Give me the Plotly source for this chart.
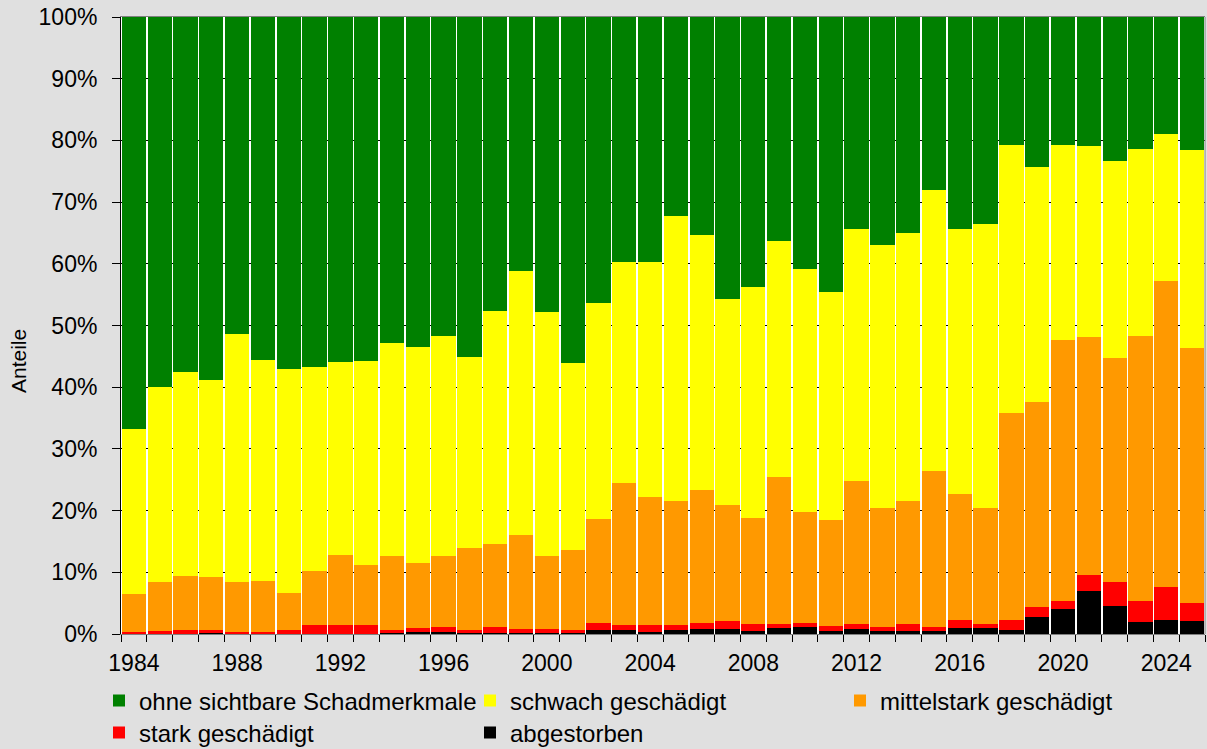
import plotly.graph_objects as go

years = list(range(1984, 2026))

abgestorben = [0, 0, 0, 0.1, 0, 0, 0, 0, 0, 0, 0.1, 0.3, 0.4, 0.1, 0.1, 0.2, 0.2, 0.2,
               0.7, 0.7, 0.3, 0.7, 0.8, 0.8, 0.5, 1.0, 1.1, 0.5, 0.8, 0.5, 0.5, 0.5,
               1.0, 1.0, 0.7, 2.7, 4.0, 7.0, 4.5, 1.9, 2.3, 2.1]
stark = [0.4, 0.5, 0.6, 0.5, 0.3, 0.4, 0.6, 1.4, 1.5, 1.5, 0.6, 0.6, 0.8, 0.6, 1.0, 0.6,
         0.6, 0.5, 1.1, 0.8, 1.2, 0.8, 1.0, 1.3, 1.1, 0.6, 0.7, 0.8, 0.8, 0.6, 1.1, 0.6,
         1.3, 0.6, 1.6, 1.7, 1.3, 2.6, 4.0, 3.4, 5.3, 2.9]
mittelstark = [6.1, 7.9, 8.8, 8.6, 8.1, 8.2, 6.0, 8.8, 11.3, 9.6, 11.9, 10.6, 11.4, 13.2,
               13.5, 15.2, 11.8, 12.9, 16.8, 23.0, 20.8, 20.1, 21.5, 18.8, 17.2, 23.8,
               18.0, 17.2, 23.2, 19.3, 19.9, 25.3, 20.4, 18.8, 33.5, 33.2, 42.3, 38.5,
               36.2, 43.0, 49.6, 41.3]
schwach = [26.8, 31.6, 33.0, 32.0, 40.3, 35.8, 36.4, 33.1, 31.3, 33.1, 34.6, 35.0, 35.7,
           31.0, 37.8, 42.8, 39.6, 30.3, 35.0, 35.8, 38.1, 46.2, 41.4, 33.4, 37.4, 38.3,
           39.4, 36.9, 40.8, 42.6, 43.5, 45.6, 42.9, 46.0, 43.5, 38.1, 31.6, 31.0, 32.0,
           30.3, 23.8, 32.1]
ohne = [66.7, 60.0, 57.6, 58.8, 51.3, 55.6, 57.0, 56.7, 55.9, 55.7, 52.8, 53.5, 51.7,
        55.1, 47.6, 41.2, 47.8, 56.1, 46.3, 39.7, 39.7, 32.2, 35.3, 45.7, 43.8, 36.3,
        40.8, 44.6, 34.4, 37.0, 35.0, 28.0, 34.4, 33.5, 20.7, 24.3, 20.7, 20.9, 23.3,
        21.4, 19.0, 21.5]

names = ["abgestorben", "stark geschädigt", "mittelstark geschädigt",
         "schwach geschädigt", "ohne sichtbare Schadmerkmale"]
colors = ["#000000", "#FF0000", "#FF9900", "#FFFF00", "#008000"]
series = [abgestorben, stark, mittelstark, schwach, ohne]
legend_ids = ["legend5", "legend4", "legend3", "legend2", "legend"]

FONT = "Arial, Liberation Sans, sans-serif"

fig = go.Figure()
for nm, col, vals, lg in zip(names, colors, series, legend_ids):
    fig.add_trace(go.Bar(x=years, y=vals, name=nm, marker=dict(color=col, line=dict(width=0)),
                         legend=lg))

# plot area px: x 121..1205, y 17..634
def px_x(p):
    return (p - 121) / 1084.0

def px_y(p):
    return (634 - p) / 617.0

leg_common = dict(orientation="h", font=dict(family=FONT, size=24, color="#000"),
                  bgcolor="rgba(0,0,0,0)", itemwidth=30, yanchor="middle", xanchor="left")
# text starts: col1 139, col2 510, col3 880 ; rows 701, 733
fig.update_layout(
    legend=dict(x=px_x(139 - 40), y=px_y(701), **leg_common),
    legend2=dict(x=px_x(510 - 40), y=px_y(701), **leg_common),
    legend3=dict(x=px_x(880 - 40), y=px_y(701), **leg_common),
    legend4=dict(x=px_x(139 - 40), y=px_y(733), **leg_common),
    legend5=dict(x=px_x(510 - 40), y=px_y(733), **leg_common),
)

fig.update_layout(
    width=1207, height=749, autosize=False,
    barmode="stack", barnorm="percent", bargap=0.06,
    paper_bgcolor="#E0E0E0", plot_bgcolor="#FFFFFF",
    margin=dict(l=121, r=2, t=17, b=115, autoexpand=False),
    font=dict(family=FONT, size=23, color="#000"),
    showlegend=True,
)

fig.update_xaxes(
    range=[1983.5, 2025.5], tick0=1984, dtick=4, tickmode="linear",
    ticks="", showgrid=False, showline=True, linecolor="#808080", linewidth=1, mirror=True,
    tickfont=dict(family=FONT, size=23, color="#000"), automargin=False,
    ticklabelstandoff=8,
    minor=dict(tick0=1983.5, dtick=1, ticks="outside", ticklen=7, tickcolor="#000",
               tickwidth=1, showgrid=False),
    zeroline=False,
)
fig.update_yaxes(
    range=[0, 100], tick0=0, dtick=10, ticksuffix="%",
    ticks="outside", ticklen=8, tickcolor="#000", tickwidth=1,
    showgrid=True, gridcolor="#000000", gridwidth=1,
    showline=True, linecolor="#000000", linewidth=1, zeroline=False,
    tickfont=dict(family=FONT, size=23, color="#000"), automargin=False,
    ticklabelstandoff=10,
)
fig.add_annotation(text="Anteile", xref="paper", yref="paper",
                   x=px_x(18), y=px_y(361), xanchor="center", yanchor="middle",
                   textangle=-90, showarrow=False,
                   font=dict(family=FONT, size=21, color="#000"))
fig.add_shape(type="line", xref="paper", yref="paper", x0=1, x1=1, y0=0, y1=1,
              line=dict(color="#808080", width=1))

fig.write_html(
    "out.html",
    config={"responsive": False, "displayModeBar": False},
    default_width="1207px", default_height="749px",
    post_script="document.body.style.margin='0px';document.body.style.padding='0px';"
                "document.documentElement.style.overflow='hidden';",
)
